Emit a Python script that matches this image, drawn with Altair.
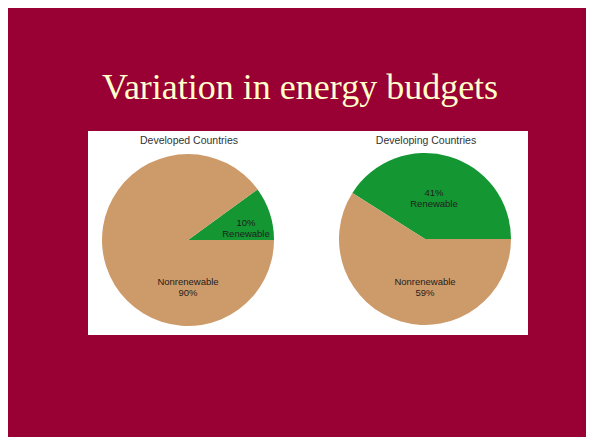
import altair as alt
import pandas as pd
import math

# ---- data ----
categories = ["Renewable", "Nonrenewable"]
developed = [10, 90]
developing = [41, 59]
panel_titles = ["Developed Countries", "Developing Countries"]
slide_title = "Variation in energy budgets"

colors = ["#149632", "#CD9B69"]


def pie_df(values):
    rows = []
    for i, (c, v) in enumerate(zip(categories, values)):
        lab = f"{v}%\n{c}" if c == "Renewable" else f"{c}\n{v}%"
        rows.append({"cat": c, "value": v, "idx": i, "label": lab})
    return pd.DataFrame(rows)


df1 = pie_df(developed)
df2 = pie_df(developing)

W, H = 578, 429
R = 86


def pie_layer(df, cx, cy):
    share = df.loc[df.cat == "Renewable", "value"].iloc[0] / 100.0
    start = math.pi / 2 - 2 * math.pi * share
    if start < 0:
        start += 2 * math.pi
    return alt.Chart(df).mark_arc(outerRadius=R, stroke=None).encode(
        theta=alt.Theta("value:Q", stack=True,
                        scale=alt.Scale(domain=[0, 100], range=[start, start + 2 * math.pi])),
        color=alt.Color("cat:N", scale=alt.Scale(domain=categories, range=colors), legend=None),
        order=alt.Order("idx:Q"),
        x=alt.value(cx),
        y=alt.value(cy),
    )


def label_layer(df, cat, x, y):
    return alt.Chart(df).transform_filter(alt.datum.cat == cat).mark_text(
        font="Liberation Sans", fontSize=9.5, color="#1e1e1e", lineBreak="\n",
        lineHeight=11, align="center", baseline="middle"
    ).encode(text="label:N", x=alt.value(x), y=alt.value(y))


box = alt.Chart(pd.DataFrame({"a": [0]})).mark_rect(color="white").encode(
    x=alt.value(80), x2=alt.value(520), y=alt.value(123), y2=alt.value(327)
)

title = alt.Chart(pd.DataFrame({"t": [slide_title]})).mark_text(
    font="Liberation Serif", fontSize=36, color="#FFFFCC", align="center", baseline="alphabetic"
).encode(text="t:N", x=alt.value(292), y=alt.value(91))

ptitles = alt.Chart(pd.DataFrame({"t": panel_titles, "i": [0, 1]})).mark_text(
    font="Liberation Sans", fontSize=10.5, color="#333333", align="center", baseline="middle"
)
pt1 = ptitles.transform_filter(alt.datum.i == 0).encode(text="t:N", x=alt.value(181), y=alt.value(133))
pt2 = ptitles.transform_filter(alt.datum.i == 1).encode(text="t:N", x=alt.value(418), y=alt.value(133))

chart = alt.layer(
    box,
    title,
    pt1,
    pt2,
    pie_layer(df1, 180, 232),
    pie_layer(df2, 417, 231),
    label_layer(df1, "Renewable", 238, 215),
    label_layer(df1, "Nonrenewable", 180, 274),
    label_layer(df2, "Renewable", 426, 185),
    label_layer(df2, "Nonrenewable", 417, 274),
).resolve_scale(theta="independent", color="independent").properties(
    width=W, height=H, background="#990033", padding=0,
    autosize=alt.AutoSizeParams(type="none"),
).configure_view(stroke=None)

chart.save("out.html", embed_options={"renderer": "svg", "actions": False})
